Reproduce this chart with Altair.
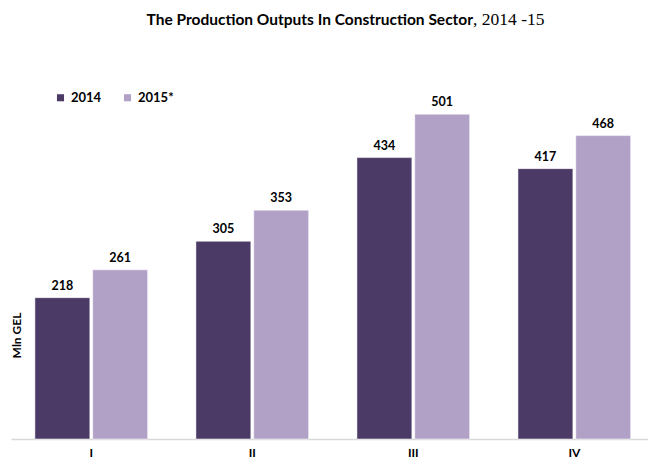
import altair as alt
import pandas as pd

quarters = ["I", "II", "III", "IV"]
years = ["2014", "2015*"]
values_2014 = [218, 305, 434, 417]
values_2015 = [261, 353, 501, 468]
colors = ["#4b3a66", "#b2a1c7"]

rows = []
for q, a, b in zip(quarters, values_2014, values_2015):
    rows.append({"quarter": q, "year": years[0], "value": a})
    rows.append({"quarter": q, "year": years[1], "value": b})
df = pd.DataFrame(rows)

FONT = "Lato"

x_enc = alt.X("quarter:N", sort=quarters,
              scale=alt.Scale(paddingInner=0.3, paddingOuter=0.128, align=0.58),
              axis=alt.Axis(title=None, labelAngle=0, labelFont=FONT, labelFontWeight="bold",
                            labelFontSize=12, labelColor="#000000", labelPadding=8,
                            ticks=False, domainColor="#d9d9d9", domainWidth=1.5))
y_enc = alt.Y("value:Q", scale=alt.Scale(domain=[0, 600], nice=False),
              axis=alt.Axis(title="Mln GEL", labels=False, ticks=False, domain=False, grid=False,
                            titleFont=FONT, titleFontSize=12, titleFontWeight="bold",
                            titleColor="#000000", titleAngle=270, titleX=5, titleY=285,
                            titleAlign="center", titleBaseline="middle"))
xo = alt.XOffset("year:N", sort=years, scale=alt.Scale(paddingInner=0.05))

bars = alt.Chart(df).mark_bar(stroke="#ffffff", strokeWidth=0.5).encode(
    x=x_enc, y=y_enc, xOffset=xo,
    color=alt.Color("year:N", sort=years, scale=alt.Scale(domain=years, range=colors),
                    legend=alt.Legend(title=None, orient="none", legendX=43, legendY=41,
                                      direction="horizontal", symbolType="square",
                                      symbolSize=50, symbolStrokeWidth=0,
                                      labelFont=FONT, labelFontSize=13, labelFontWeight="bold",
                                      labelColor="#000000", columnPadding=19, labelOffset=4)),
)

labels = alt.Chart(df).mark_text(font=FONT, fontSize=12.5, fontWeight="bold", color="#000000",
                                 baseline="bottom", dy=-5).encode(
    x=alt.X("quarter:N", sort=quarters), y="value:Q", xOffset=alt.XOffset("year:N", sort=years),
    text="value:Q",
)

title_df = pd.DataFrame({"t": ["The Production Outputs In Construction Sector"]})
title_bold = alt.Chart(title_df).mark_text(font=FONT, fontSize=15.5, fontWeight="bold",
                                           color="#000000", align="right", baseline="alphabetic").encode(
    x=alt.value(462), y=alt.value(-25), text="t:N")
title_df2 = pd.DataFrame({"t": [", 2014 -15"]})
title_serif = alt.Chart(title_df2).mark_text(font="Liberation Serif", fontSize=17.5,
                                             color="#000000", align="left", baseline="alphabetic").encode(
    x=alt.value(462), y=alt.value(-25), text="t:N")

chart = alt.layer(bars, labels, title_bold, title_serif).properties(
    width=637, height=389,
    autosize=alt.AutoSizeParams(type="none"),
    padding={"left": 3, "top": 42, "right": 0, "bottom": 20},
).configure_view(stroke=None)

chart.save("out.html", embed_options={"renderer": "svg", "actions": False})
